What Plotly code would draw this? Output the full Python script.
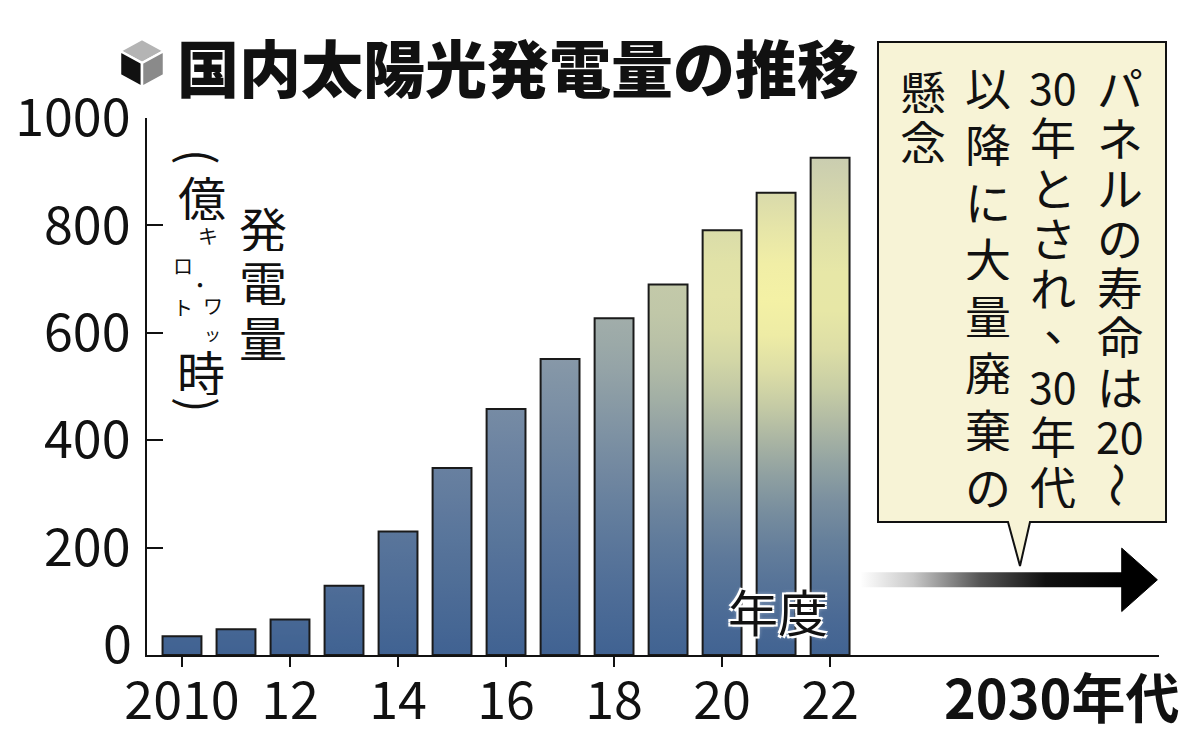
import numpy as np
import plotly.graph_objects as go

# data (億kWh, fiscal year)
years = list(range(2010, 2023))
generation = [35, 48, 66, 129, 230, 348, 458, 551, 627, 690, 791, 861, 926]
tick_years = [2010, 2012, 2014, 2016, 2018, 2020, 2022]
tick_labels = ['2010', '12', '14', '16', '18', '20', '22']
y_ticks = [0, 200, 400, 600, 800, 1000]
y_tick_labels = ['', '200', '400', '600', '800', '1000']

title = '国内太陽光発電量の推移'
note_columns = [
    ['パ', 'ネ', 'ル', 'の', '寿', '命', 'は', '20', '～'],
    ['30', '年', 'と', 'さ', 'れ', '、', '30', '年', '代'],
    ['以', '降', 'に', '大', '量', '廃', '棄', 'の'],
    ['懸', '念'],
]

JP = 'Noto Sans CJK JP'
NUM = 'Noto Sans CJK JP'

W, H = 1200, 735
L, R, T, B = 147, 41, 118, 80


def xp(px):
    return (px - L) / (W - L - R)


def yp(py):
    return (H - B - py) / (H - T - B)


def paper_path(pts):
    return 'M ' + ' L '.join(f'{xp(a):.5f},{yp(b):.5f}' for a, b in pts) + ' Z'


BLUE = (64, 98, 146)
GREY = (172, 180, 184)
GLOW = (250, 246, 165)


def bar_color(x, v):
    t = min(v / 950, 1)
    base = [lo + (hi - lo) * t for lo, hi in zip(BLUE, GREY)]
    d2 = ((x - 2021.1) / 2.6) ** 2 + ((v - 667) / 300) ** 2
    w = 0.95 * np.exp(-d2)
    c = [b + (g - b) * w for b, g in zip(base, GLOW)]
    return 'rgb(%d,%d,%d)' % tuple(int(round(k)) for k in c)


bw = 0.72
fig = go.Figure()

# gradient fills of the bars (under the outlined bar trace)
for yr, v in zip(years, generation):
    stops = np.linspace(0, 1, 14)
    cs = [[float(s), bar_color(yr, s * v)] for s in stops]
    fig.add_trace(go.Scatter(
        x=[yr - bw / 2, yr + bw / 2, yr + bw / 2, yr - bw / 2, yr - bw / 2],
        y=[0, 0, v, v, 0], fill='toself', mode='none',
        fillgradient=dict(type='vertical', colorscale=cs, start=0, stop=v),
        hoverinfo='skip', showlegend=False))

# arrow shaft toward the 2030s
fig.add_trace(go.Scatter(
    x=[2022.56, 2027.46, 2027.46, 2022.56, 2022.56], y=[126, 126, 154, 154, 126],
    fill='toself', mode='none',
    fillgradient=dict(type='horizontal', start=2022.56, stop=2027.46,
                      colorscale=[[0, 'rgb(255,255,255)'], [0.2, 'rgb(200,200,200)'],
                                  [0.45, 'rgb(85,85,85)'], [0.7, 'rgb(17,17,17)'], [1, 'rgb(0,0,0)']]),
    hoverinfo='skip', showlegend=False))

fig.add_trace(go.Bar(
    x=years, y=generation, width=bw, xaxis='x2', yaxis='y2',
    marker=dict(color='rgba(0,0,0,0)', line=dict(color='#1a1a1a', width=2)),
    hoverinfo='skip', showlegend=False))

xrange = [2009.352, 2028.09]
yrange = [0, 1000]

fig.update_layout(
    width=W, height=H, margin=dict(l=L, r=R, t=T, b=B, autoexpand=False),
    paper_bgcolor='white', plot_bgcolor='white',
    xaxis=dict(range=xrange, showline=True, linecolor='#111', linewidth=2,
               ticks='outside', ticklen=10, tickwidth=2, tickcolor='#111', automargin=False,
               tickvals=tick_years, ticktext=tick_labels, showgrid=False, zeroline=False,
               ticklabelstandoff=-10,
               tickfont=dict(family=NUM, size=52, color='#111')),
    yaxis=dict(range=yrange, showline=True, linecolor='#111', linewidth=2,
               ticks='inside', ticklen=16, tickwidth=2, tickcolor='#111', automargin=False,
               tickvals=y_ticks, ticktext=y_tick_labels, showgrid=False, zeroline=False,
               ticklabelstandoff=4,
               tickfont=dict(family=NUM, size=52, color='#111')),
    xaxis2=dict(range=xrange, overlaying='x', visible=False),
    yaxis2=dict(range=yrange, overlaying='y', visible=False),
)

# cube icon
cube = [(142, 39), (164, 51), (142, 63), (120, 51), (120, 75), (142, 87), (164, 75)]
faces = [([0, 1, 2, 3], '#b4b4b4'), ([3, 2, 5, 4], '#111111'), ([2, 1, 6, 5], '#8a8a8a')]
for idx, col in faces:
    fig.add_shape(type='path', xref='paper', yref='paper',
                  path=paper_path([cube[i] for i in idx]),
                  fillcolor=col, line=dict(color='white', width=2.5))

# speech box
fig.add_shape(type='path', xref='paper', yref='paper',
              path=paper_path([(878, 42), (1166, 42), (1166, 522), (1030, 522),
                               (1020, 566), (1008, 522), (878, 522)]),
              fillcolor='#f7f3d6', line=dict(color='#111', width=2))

# arrow head
fig.add_shape(type='path', xref='x', yref='y',
              path='M 2027.40,199 L 2028.06,140 L 2027.40,81 Z',
              fillcolor='black', line=dict(color='black', width=1))

ann = []
ann.append(dict(text=title, xref='paper', yref='paper', x=xp(175), y=yp(66),
                xanchor='left', yanchor='middle', showarrow=False,
                font=dict(family=JP, size=62, color='#111', weight=900)))

# vertical axis title: (char, x px, y px, size, angle)
ytitle = [('(', 201, 157, 46, 90), ('億', 202, 195, 48, 0), ('キ', 208, 235, 20, 0),
          ('ロ', 183, 265, 20, 0), ('・', 200, 284, 20, 0), ('ワ', 213, 305, 20, 0),
          ('ト', 183, 307, 20, 0), ('ッ', 212, 333, 17, 0), ('時', 201, 370, 48, 0),
          (')', 201, 405, 46, 90), ('発', 263, 227, 48, 0), ('電', 263, 280, 48, 0),
          ('量', 263, 335, 48, 0)]
for ch, x, y, s, a in ytitle:
    cell = dict(text=ch, xref='paper', yref='paper', x=xp(x), y=yp(y),
                xanchor='center', yanchor='middle', showarrow=False, textangle=a,
                borderpad=0, font=dict(family=JP, size=s, color='#111'))
    if a == 0:
        cell['height'] = s + 1
    ann.append(cell)

# zero label sits a little above the axis
ann.append(dict(text='0', xref='paper', yref='paper', x=xp(134), y=yp(640),
                xanchor='right', yanchor='middle', showarrow=False,
                font=dict(family=NUM, size=52, color='#111')))

# vertical note text
col_x = [1120, 1053, 988, 923]
for cx, cells in zip(col_x, note_columns):
    n = len(cells)
    if n > 3:
        ys = np.linspace(86, 485, n)
    else:
        ys = [90 + 50 * i for i in range(n)]
    for cell, cy in zip(cells, ys):
        dx, dy, a, s = 0, 0, 0, 46
        if cell == '～':
            a = 90
        if cell == '、':
            dx, dy = 14, -14
        if cell.isdigit():
            s = 43
        ann.append(dict(text=cell, xref='paper', yref='paper', x=xp(cx + dx), y=yp(cy + dy),
                        xanchor='center', yanchor='middle', showarrow=False, textangle=a,
                        borderpad=0, height=46 if a == 0 else None,
                        font=dict(family=JP, size=s, color='#111')))

ann.append(dict(text='年度', xref='paper', yref='paper', x=xp(778), y=yp(610),
                xanchor='center', yanchor='middle', showarrow=False,
                font=dict(family=JP, size=50, color='#111',
                          shadow='2px 2px 0 #fff, -2px -2px 0 #fff, 2px -2px 0 #fff, -2px 2px 0 #fff, 0 0 5px #fff')))
ann.append(dict(text='2030年代', xref='paper', yref='paper', x=xp(1061), y=yp(695),
                xanchor='center', yanchor='middle', showarrow=False,
                font=dict(family=JP, size=54, color='#111', weight='bold')))

fig.update_layout(annotations=ann)
# page body has a default 8px margin; drop it so the figure sits at the window origin
fig.write_html('out.html', config={'displayModeBar': False},
               post_script="document.body.style.margin='0';")
